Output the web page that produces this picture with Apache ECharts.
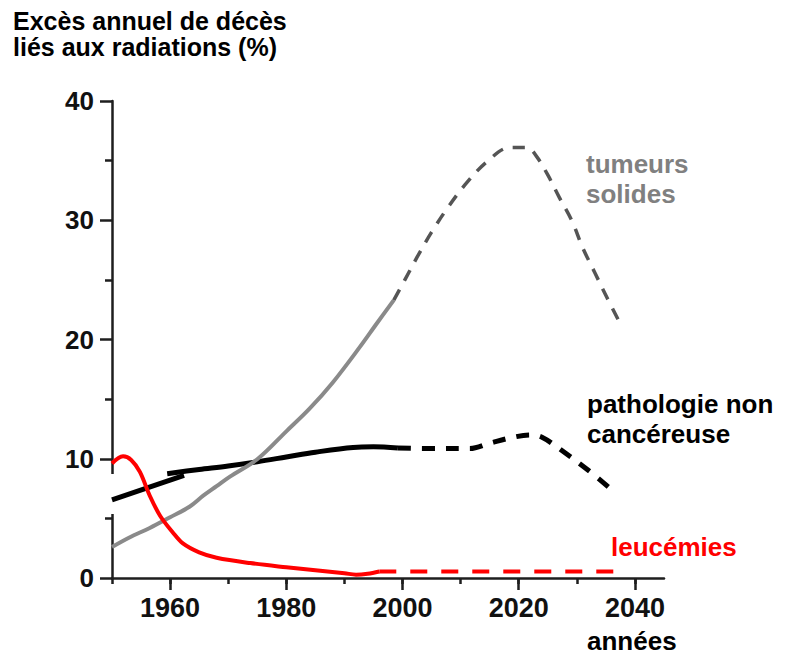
<!DOCTYPE html>
<html>
<head>
<meta charset="utf-8">
<script src="https://cdn.jsdelivr.net/npm/echarts@6/dist/echarts.min.js"></script>
<style>
  html, body { margin: 0; padding: 0; background: #ffffff; }
  #chart { width: 786px; height: 656px; }
</style>
</head>
<body>
<div id="chart"></div>
<script>
// ---- data ----
const titleLines = ['Excès annuel de décès', 'liés aux radiations (%)'];
const xAxisName = 'années';

// Year grid of the horizontal axis (5-year steps, 1950 to 2045)
const tickYears = [1950, 1955, 1960, 1965, 1970, 1975, 1980, 1985, 1990, 1995,
                   2000, 2005, 2010, 2015, 2020, 2025, 2030, 2035, 2040, 2045];
const xTickLabels = ['1960', '1980', '2000', '2020', '2040'];
const yTickValues = [0, 10, 20, 30, 40];

// Solid tumours: observed part, then projection
const tumeursLabel = ['tumeurs', 'solides'];
const tumeursObserved = [[1950, 2.6], [1953, 3.4], [1956.5, 4.2], [1960, 5.1], [1963.4, 6.0],
  [1965.7, 6.9], [1968, 7.7], [1970.3, 8.5], [1975.1, 10.0], [1980, 12.3], [1984, 14.2],
  [1988, 16.4], [1992.7, 19.4], [1995.5, 21.3], [1998.5, 23.3]];
const tumeursProjected = [[1998.5, 23.3], [2000.4, 25.0], [2002.5, 26.9], [2005, 29.0],
  [2007.7, 31.0], [2010.8, 33.0], [2014.5, 34.9], [2018.5, 36.1], [2021.5, 36.1],
  [2023, 35.4], [2025, 33.8], [2027, 31.9], [2029.2, 29.9], [2031, 27.7], [2033.1, 25.6],
  [2035.2, 23.5], [2037.4, 21.4]];

// Non-cancer disease
const pathologieLabel = ['pathologie non', 'cancéreuse'];
const pathologieEarly = [[1950, 6.55], [1962.4, 8.6]];
const pathologieObserved = [[1959.5, 8.75], [1965, 9.1], [1970, 9.4], [1975, 9.75],
  [1980, 10.15], [1985, 10.55], [1991.5, 10.95], [1995, 11.0], [1999.2, 10.9]];
const pathologieProjected = [[1999.2, 10.9], [2005, 10.85], [2011.6, 10.85], [2015, 11.3],
  [2019, 11.8], [2022, 12.0], [2024, 11.8], [2027.1, 10.8], [2031.8, 9.1], [2036.7, 7.1]];

// Leukaemia
const leucemiesLabel = 'leucémies';
const leucemiesObserved = [[1950, 9.6], [1951.9, 10.2], [1953.3, 9.9], [1954.8, 8.9],
  [1956.5, 6.9], [1958.3, 5.2], [1960.5, 3.8], [1962.2, 2.9], [1965, 2.15], [1968, 1.7],
  [1973.8, 1.25], [1980, 0.9], [1985, 0.65], [1990, 0.4], [1992, 0.28], [1994, 0.36],
  [1996, 0.55]];
const leucemiesProjected = [[1996, 0.55], [2036.6, 0.55]];

// ---- chart ----
const FONT = "'Liberation Sans', Arial, Helvetica, sans-serif";
const AXIS_COLOR = '#1e1e1e';
const axisLineStyle = { color: AXIS_COLOR, width: 2.5 };

function lineSeries(data, color, width, type, smooth) {
  return {
    type: 'line',
    xAxisIndex: 0,
    yAxisIndex: 0,
    data: data,
    showSymbol: false,
    symbol: 'none',
    smooth: smooth,
    silent: true,
    animation: false,
    lineStyle: { color: color, width: width, type: type, cap: 'butt', join: 'round' }
  };
}

function textItem(str, x, y, color, size) {
  return {
    type: 'text',
    x: x,
    y: y,
    z: 10,
    style: {
      text: str,
      fill: color,
      fontSize: size,
      fontWeight: 'bold',
      fontFamily: FONT,
      align: 'left',
      verticalAlign: 'middle'
    }
  };
}

const chart = echarts.init(document.getElementById('chart'), null, { renderer: 'svg' });

chart.setOption({
  animation: false,
  backgroundColor: '#ffffff',
  grid: { left: 112, top: 101, width: 552, height: 477, containLabel: false },
  xAxis: [
    // value scale used by the curves
    { type: 'value', min: 1950, max: 2045, show: false },
    // axis line with 10-year ticks
    {
      type: 'category', data: tickYears.map(String), boundaryGap: false, position: 'bottom',
      axisLine: { show: true, onZero: false, lineStyle: axisLineStyle },
      axisTick: { show: true, length: 6, lineStyle: axisLineStyle,
        interval: function (i, v) { return Number(v) % 10 === 0; } },
      axisLabel: { show: false },
      splitLine: { show: false }
    },
    // labelled 20-year ticks
    {
      type: 'category', data: tickYears.map(String), boundaryGap: false, position: 'bottom',
      axisLine: { show: false, onZero: false },
      axisTick: { show: true, length: 12, lineStyle: axisLineStyle,
        interval: function (i, v) { return xTickLabels.indexOf(v) >= 0; } },
      axisLabel: {
        show: true, fontSize: 27, fontWeight: 'bold', fontFamily: FONT, color: '#111111', margin: 16,
        interval: function (i, v) { return xTickLabels.indexOf(v) >= 0; }
      },
      splitLine: { show: false }
    }
  ],
  yAxis: {
    type: 'value', min: yTickValues[0], max: yTickValues[yTickValues.length - 1], interval: 10,
    axisLine: { show: true, onZero: false, lineStyle: axisLineStyle },
    axisTick: { show: true, length: 12, lineStyle: axisLineStyle },
    minorTick: { show: true, splitNumber: 2, length: 7, lineStyle: axisLineStyle },
    axisLabel: { fontSize: 26, fontWeight: 'bold', fontFamily: FONT, color: '#111111', margin: 18 },
    splitLine: { show: false }
  },
  series: [
    lineSeries(pathologieEarly, '#000000', 5, 'solid', false),
    lineSeries(pathologieObserved, '#000000', 5, 'solid', 0.35),
    lineSeries(pathologieProjected, '#000000', 5, [13, 11], 0.35),
    lineSeries(tumeursObserved, '#8a8a8a', 4, 'solid', 0.35),
    lineSeries(tumeursProjected, '#555555', 3.5, [12, 10], 0.35),
    lineSeries(leucemiesObserved, '#ff0000', 4, 'solid', 0.35),
    lineSeries(leucemiesProjected, '#ff0000', 4, [17, 14], false)
  ],
  graphic: [
    // break in the vertical axis line
    { type: 'rect', z: 1, shape: { x: 108, y: 474, width: 7, height: 40 }, style: { fill: '#ffffff' } },
    textItem(titleLines[0], 13, 20.5, '#000000', 25),
    textItem(titleLines[1], 13, 46.5, '#000000', 25),
    textItem(tumeursLabel[0], 586, 164, '#808080', 26),
    textItem(tumeursLabel[1], 586, 194, '#808080', 26),
    textItem(pathologieLabel[0], 587, 404, '#000000', 26),
    textItem(pathologieLabel[1], 587, 434, '#000000', 26),
    textItem(leucemiesLabel, 611, 547, '#ff0000', 26),
    textItem(xAxisName, 587, 641, '#000000', 26)
  ]
});
</script>
</body>
</html>
